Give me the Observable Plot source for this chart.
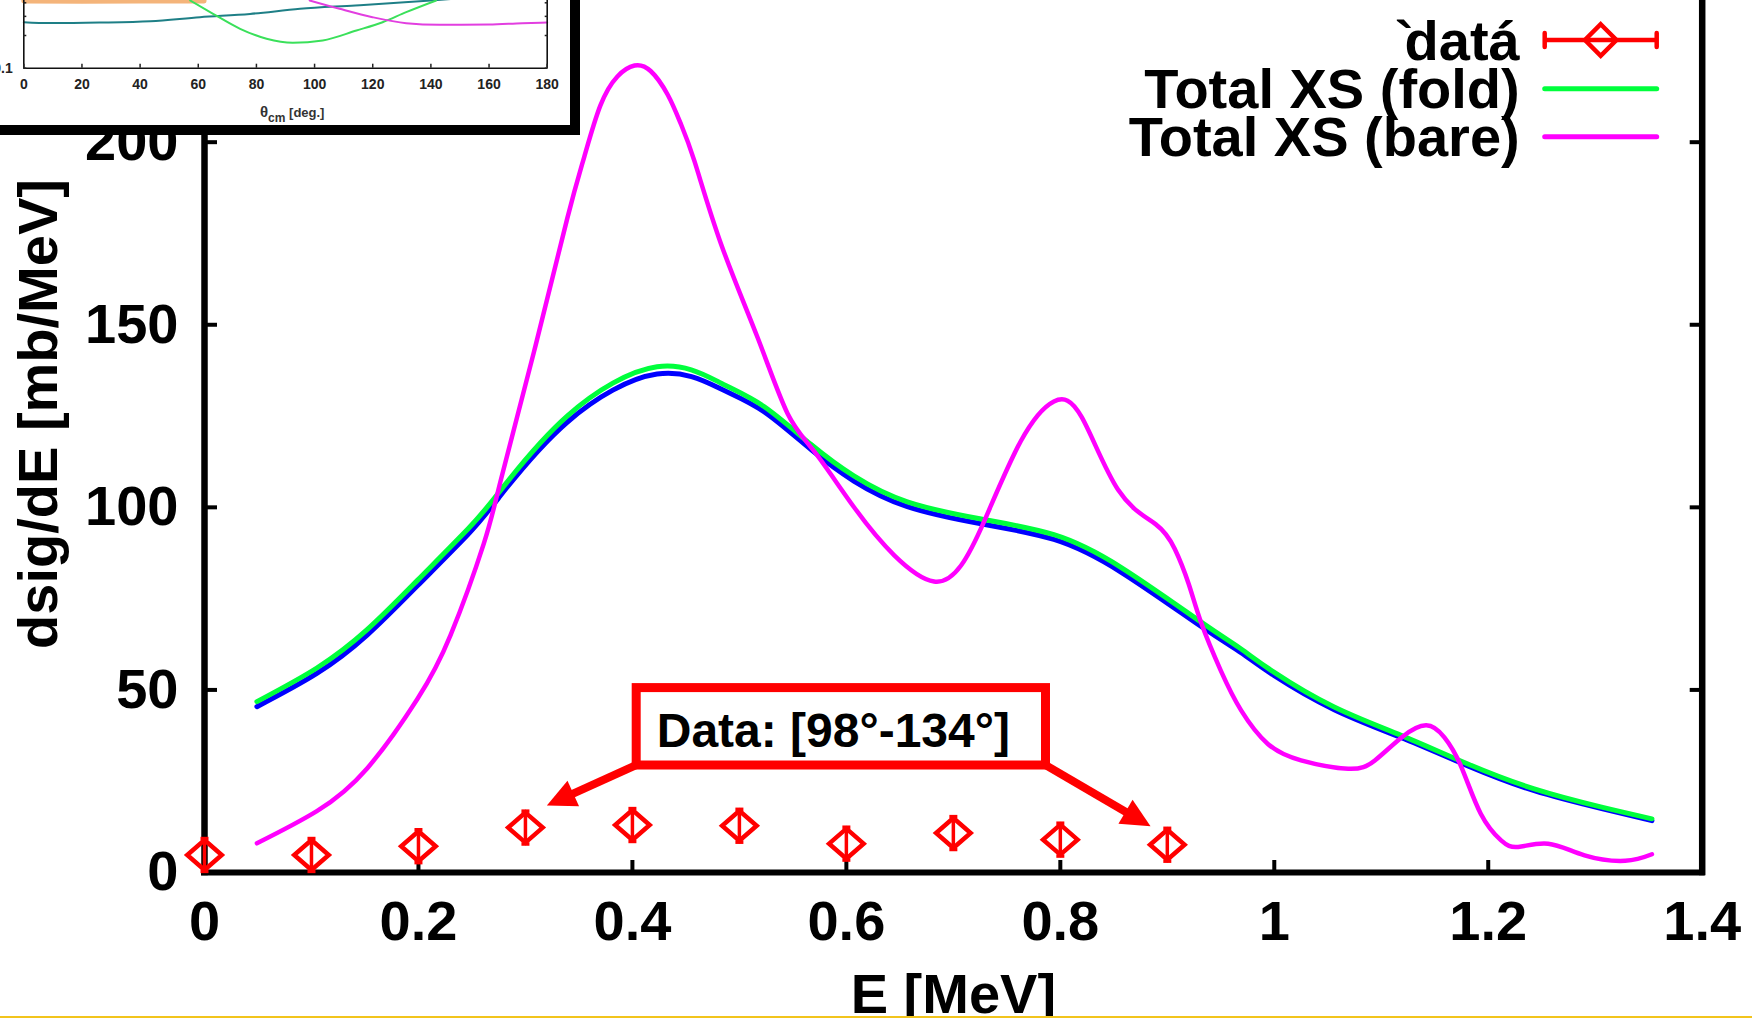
<!DOCTYPE html>
<html>
<head>
<meta charset="utf-8">
<script src="https://cdn.jsdelivr.net/npm/d3@7"></script>
<script src="https://cdn.jsdelivr.net/npm/@observablehq/plot@0.6"></script>
<style>
html, body { margin: 0; padding: 0; background: #fff; overflow: hidden; }
#wrap { position: relative; width: 1752px; height: 1018px; overflow: hidden; background: #fff; }
#main { position: absolute; left: 0; top: 0; }
#inset { position: absolute; left: 0; top: 0; width: 570px; height: 125px; border-right: 10px solid #000; border-bottom: 10px solid #000; background: #fff; overflow: hidden; }
#bar { position: absolute; left: 0; top: 1016px; width: 1752px; height: 2px; background: #f2c41c; }
</style>
</head>
<body>
<div id="wrap"><div id="main"></div><div id="inset"></div><div id="bar"></div></div>
<script>
// ---------- main chart data ----------
const xTicks = [0, 0.2, 0.4, 0.6, 0.8, 1, 1.2, 1.4];
const xTickLabels = ["0", "0.2", "0.4", "0.6", "0.8", "1", "1.2", "1.4"];
const yTicks = [0, 50, 100, 150, 200];
const yTickLabels = ["0", "50", "100", "150", "200"];
const xLabel = "E [MeV]";
const yLabel = "dsig/dE [mb/MeV]";

const dataE = [0, 0.1, 0.2, 0.3, 0.4, 0.5, 0.6, 0.7, 0.8, 0.9];
const dataV = [4.8, 4.8, 7.2, 12.3, 13.0, 12.8, 7.9, 10.8, 9.0, 7.6];
const dataErr = [4.5, 4.5, 4.5, 4.5, 4.5, 4.5, 4.5, 4.5, 4.5, 4.5];

const foldE = [0.049, 0.105, 0.152, 0.199, 0.246, 0.275, 0.339, 0.423, 0.483, 0.523, 0.567, 0.607, 0.657, 0.726, 0.794, 0.857, 0.932, 0.969, 1.0, 1.056, 1.119, 1.181, 1.243, 1.306, 1.353];
const foldV = [46.8, 56, 66.5, 80, 94, 104, 125, 138.5, 134, 127.6, 117.2, 108.6, 101.5, 96.8, 92.5, 83.5, 68.5, 61.2, 54.8, 45.3, 37.5, 29.7, 22.9, 17.9, 14.7];

const blueE = [0.049, 0.105, 0.152, 0.199, 0.246, 0.275, 0.339, 0.423, 0.483, 0.523, 0.567, 0.607, 0.657, 0.726, 0.794, 0.857, 0.932, 0.969, 1.0, 1.056, 1.119, 1.181, 1.243, 1.306, 1.353];
const blueV = [45.4, 54.5, 65, 78.5, 92.5, 102.6, 123.3, 136.5, 132.4, 126.2, 115.8, 107.2, 100.2, 95.5, 91.2, 82.2, 67.3, 60.2, 53.9, 44.6, 36.9, 29.2, 22.4, 17.5, 14.2];

const bareE = [0.049, 0.105, 0.152, 0.199, 0.230, 0.261, 0.277, 0.308, 0.339, 0.355, 0.370, 0.386, 0.402, 0.417, 0.433, 0.445, 0.458, 0.483, 0.517, 0.545, 0.570, 0.607, 0.645, 0.682, 0.707, 0.729, 0.763, 0.794, 0.820, 0.854, 0.889, 0.907, 0.920, 0.932, 0.950, 0.969, 0.994, 1.025, 1.069, 1.094, 1.119, 1.142, 1.159, 1.175, 1.193, 1.212, 1.228, 1.256, 1.290, 1.328, 1.353];
const bareV = [8, 16.8, 28.5, 47.5, 65, 90, 107.5, 142.6, 179, 196, 210, 218, 221, 219.5, 213, 205.2, 194.8, 172, 146.5, 125.7, 115.3, 100.1, 86.8, 79.7, 84, 96.3, 118.1, 129, 124.7, 104.8, 95.4, 88.6, 79, 68.1, 55.3, 44.4, 35.2, 30.7, 28.4, 30.7, 37, 40.3, 37, 28.8, 16.1, 8.8, 7, 7.9, 4.7, 3.2, 5];

const legendLabels = ["datá", "Total XS (fold)", "Total XS (bare)"];
const legendPrefix = "`";

// annotation (data coordinates, as in the original plot script)
const annLabel = "Data: [98°-134°]";
const annLabelX = [0.5878];
const annLabelY = [38.7];
const annBoxX = [0.404, 0.7866];
const annBoxY = [29.3, 50.5];
const annArrowFromX = [0.404, 0.7866];
const annArrowFromY = [29.3, 29.3];
const annArrowToX = [0.3205, 0.8848];
const annArrowToY = [18.2, 12.5];

// ---------- inset data ----------
const insetXTicks = [0, 20, 40, 60, 80, 100, 120, 140, 160, 180];
const insetYTicks = [0.1, 0.2, 0.3, 0.4];
const insetYLabelTicks = [0.1];
const insetYTickLabels = ["0.1"];
const insetOrangeT = [0, 20, 40, 62];
const insetOrangeV = [0.415, 0.414, 0.415, 0.416];
const insetTealT = [0, 9, 26, 43.5, 60.6, 77.8, 95, 114, 140, 150];
const insetTealV = [0.265, 0.26, 0.263, 0.271, 0.295, 0.316, 0.352, 0.378, 0.42, 0.44];
const insetGreenT = [57.2, 65.1, 74.4, 83.5, 92.5, 102.8, 114.4, 123.4, 131.5, 141.8];
const insetGreenV = [0.42, 0.317, 0.2306, 0.1865, 0.1713, 0.18, 0.2223, 0.265, 0.328, 0.42];
const insetMagT = [98.3, 108.6, 119.9, 131.5, 142.9, 160, 171.4, 180];
const insetMagV = [0.42, 0.352, 0.2949, 0.2597, 0.251, 0.2526, 0.2597, 0.263];

// ---------- styles ----------
const FONT = "'Liberation Sans', Arial, Helvetica, sans-serif";
const RED = "#ff0000", GREEN = "#00ff3c", MAGENTA = "#ff00ff", BLUE = "#0000ff";

const rows = (E, V) => E.map((e, i) => ({e, v: V[i]}));
const points = dataE.map((e, i) => ({e, v: dataV[i], err: dataErr[i]}));
const capSymbol = {draw(ctx, size) { const w = Math.sqrt(size / Math.PI); ctx.moveTo(-w, 0); ctx.lineTo(w, 0); }};
const wideDiamond = {draw(ctx, size) {
  const r = Math.sqrt(size / Math.PI), rx = 1.15 * r, ry = r;
  ctx.moveTo(0, -ry); ctx.lineTo(rx, 0); ctx.lineTo(0, ry); ctx.lineTo(-rx, 0); ctx.closePath();
}};

function arrowsMark(index, scales) {
  const g = d3.create("svg:g");
  annArrowFromX.forEach((_, i) => {
    const x1 = scales.x(annArrowFromX[i]), y1 = scales.y(annArrowFromY[i]);
    const x2 = scales.x(annArrowToX[i]), y2 = scales.y(annArrowToY[i]);
    const dx = x2 - x1, dy = y2 - y1, L = Math.hypot(dx, dy), ux = dx / L, uy = dy / L;
    const hl = 29, hw = 14;
    const bx = x2 - ux * hl, by = y2 - uy * hl;
    g.append("line").attr("x1", x1).attr("y1", y1).attr("x2", bx + ux * 2).attr("y2", by + uy * 2)
      .attr("stroke", RED).attr("stroke-width", 8).attr("stroke-linecap", "butt");
    g.append("path").attr("d", `M${x2},${y2}L${bx - uy * hw},${by + ux * hw}L${bx + uy * hw},${by - ux * hw}Z`)
      .attr("fill", RED);
  });
  return g.node();
}

function legendMark(index, scales, values, dims) {
  const right = dims.width - dims.marginRight;
  const g = d3.create("svg:g");
  const textX = right - 182, x1 = right - 157, x2 = right - 45, xc = (x1 + x2) / 2;
  const rowY = [40, 88.7, 136.7];
  legendLabels.forEach((lab, i) => {
    const t = g.append("text").attr("x", textX).attr("y", rowY[i]).attr("dy", "0.35em")
      .attr("text-anchor", "end").attr("font-size", 56).attr("font-weight", "bold")
      .attr("fill", "#000");
    if (i === 0) {
      t.append("tspan").text(legendPrefix);
      t.append("tspan").attr("dx", -9).text(lab);
    } else {
      t.text(lab);
    }
  });
  // data sample: horizontal error bar with caps and diamond
  const y0 = rowY[0];
  g.append("line").attr("x1", x1).attr("x2", x2).attr("y1", y0).attr("y2", y0).attr("stroke", RED).attr("stroke-width", 4.5);
  [x1, x2].forEach(xx => g.append("line").attr("x1", xx).attr("x2", xx).attr("y1", y0 - 7).attr("y2", y0 + 7)
    .attr("stroke", RED).attr("stroke-width", 4.5).attr("stroke-linecap", "round"));
  g.append("path").attr("transform", `translate(${xc},${y0})`)
    .attr("d", d3.symbol(d3.symbolDiamond2, 632)()).attr("fill", "none").attr("stroke", RED).attr("stroke-width", 4.5);
  [[GREEN, rowY[1]], [MAGENTA, rowY[2]]].forEach(([c, yy]) =>
    g.append("line").attr("x1", x1).attr("x2", x2).attr("y1", yy).attr("y2", yy)
      .attr("stroke", c).attr("stroke-width", 5).attr("stroke-linecap", "round"));
  return g.node();
}

const main = Plot.plot({
  width: 1752,
  height: 1016,
  marginLeft: 204,
  marginRight: 50.3,
  marginTop: 0,
  marginBottom: 144,
  x: {domain: [0, 1.4]},
  y: {domain: [0, 238.8]},
  style: {fontFamily: FONT, fontWeight: "bold", fontSize: "56px", color: "#000", background: "#fff", overflow: "visible"},
  marks: [
    Plot.ruleX([0, 1.4], {strokeWidth: 6.5, strokeLinecap: "square"}),
    Plot.ruleY([0], {strokeWidth: 6, strokeLinecap: "square"}),
    Plot.axisX({ticks: xTicks, tickSize: -12, strokeWidth: 4, tickFormat: () => "", label: null}),
    Plot.axisX({ticks: xTicks, tickSize: 0, tickPadding: 28, tickFormat: d => xTickLabels[xTicks.indexOf(d)], label: null, fontSize: 56}),
    Plot.axisY({anchor: "left", ticks: yTicks, tickSize: -13, strokeWidth: 4, tickFormat: () => "", label: null}),
    Plot.axisY({anchor: "left", ticks: yTicks, tickSize: 0, tickPadding: 26, tickFormat: d => yTickLabels[yTicks.indexOf(d)], label: null, fontSize: 56}),
    Plot.axisY({anchor: "right", ticks: yTicks, tickSize: -13, strokeWidth: 4, tickFormat: () => "", label: null}),
    Plot.text([yLabel], {text: d => d, frameAnchor: "left", textAnchor: "middle", lineAnchor: "middle", rotate: -90, dx: -165, dy: -22.5, fontSize: 56, fontWeight: "bold"}),
    Plot.text([xLabel], {text: d => d, frameAnchor: "bottom", textAnchor: "middle", lineAnchor: "middle", dy: 123, fontSize: 56, fontWeight: "bold"}),
    Plot.line(rows(blueE, blueV), {x: "e", y: "v", stroke: BLUE, strokeWidth: 5, curve: "natural"}),
    Plot.line(rows(foldE, foldV), {x: "e", y: "v", stroke: GREEN, strokeWidth: 5, curve: "natural"}),
    Plot.line(rows(bareE, bareV), {x: "e", y: "v", stroke: MAGENTA, strokeWidth: 4.5, curve: "natural"}),
    Plot.rect([{x1: annBoxX[0], x2: annBoxX[1], y1: annBoxY[0], y2: annBoxY[1]}], {x1: "x1", x2: "x2", y1: "y1", y2: "y2", fill: "none", stroke: RED, strokeWidth: 9, strokeLinejoin: "miter"}),
    Plot.text([annLabel], {text: d => d, x: annLabelX, y: annLabelY, fontSize: 48, fontWeight: "bold", fill: "#000"}),
    arrowsMark,
    Plot.ruleX(points, {x: "e", y1: d => d.v - d.err, y2: d => d.v + d.err, stroke: RED, strokeWidth: 3.5}),
    Plot.dot(points, {x: "e", y: d => d.v + d.err, symbol: capSymbol, r: 4, stroke: RED, strokeWidth: 3.5}),
    Plot.dot(points, {x: "e", y: d => d.v - d.err, symbol: capSymbol, r: 4, stroke: RED, strokeWidth: 3.5}),
    Plot.dot(points, {x: "e", y: "v", symbol: wideDiamond, r: 15, stroke: RED, strokeWidth: 4.5, fill: "none"}),
    legendMark
  ]
});
document.getElementById("main").appendChild(main);

// ---------- inset ----------
const inset = Plot.plot({
  width: 570,
  height: 125,
  marginLeft: 23.3,
  marginRight: 23.3,
  marginTop: 0,
  marginBottom: 57.3,
  x: {domain: [0, 180]},
  y: {type: "log", domain: [0.1, 0.42]},
  style: {fontFamily: FONT, fontWeight: "bold", fontSize: "14px", color: "#222", background: "#fff", overflow: "hidden"},
  marks: [
    Plot.line(rows(insetOrangeT, insetOrangeV), {x: "e", y: "v", stroke: "#f4b47a", strokeWidth: 5}),
    Plot.line(rows(insetTealT, insetTealV), {x: "e", y: "v", stroke: "#1e7f86", strokeWidth: 2, curve: "monotone-x"}),
    Plot.line(rows(insetGreenT, insetGreenV), {x: "e", y: "v", stroke: "#3ae05a", strokeWidth: 2, curve: "monotone-x"}),
    Plot.line(rows(insetMagT, insetMagV), {x: "e", y: "v", stroke: "#e23ee0", strokeWidth: 2, curve: "monotone-x"}),
    Plot.ruleX([0, 180], {stroke: "#111", strokeWidth: 1.6}),
    Plot.ruleY([0.1], {stroke: "#111", strokeWidth: 1.6}),
    Plot.axisX({ticks: insetXTicks, tickSize: -4, strokeWidth: 1.5, tickFormat: () => "", label: null}),
    Plot.axisX({ticks: insetXTicks, tickSize: 0, tickPadding: 11, tickFormat: d => String(d), label: null, fill: "#222"}),
    Plot.axisY({anchor: "left", ticks: insetYTicks, tickSize: -3, strokeWidth: 1.5, tickFormat: () => "", label: null}),
    Plot.axisY({anchor: "right", ticks: insetYTicks, tickSize: -3, strokeWidth: 1.5, tickFormat: () => "", label: null}),
    Plot.axisY({anchor: "left", ticks: insetYLabelTicks, tickSize: 0, tickPadding: 11, tickFormat: d => insetYTickLabels[insetYLabelTicks.indexOf(d)], label: null, fill: "#222"})
  ]
});
const lab = d3.select(inset).append("text").attr("x", 260).attr("y", 116.7).attr("text-anchor", "start")
  .attr("font-family", FONT).attr("font-weight", "bold").attr("fill", "#333").attr("font-size", 15);
lab.append("tspan").text("θ");
lab.append("tspan").attr("font-size", 12).attr("dy", 5).text("cm");
lab.append("tspan").attr("font-size", 13).attr("dy", -5).text(" [deg.]");
document.getElementById("inset").appendChild(inset);
</script>
</body>
</html>
